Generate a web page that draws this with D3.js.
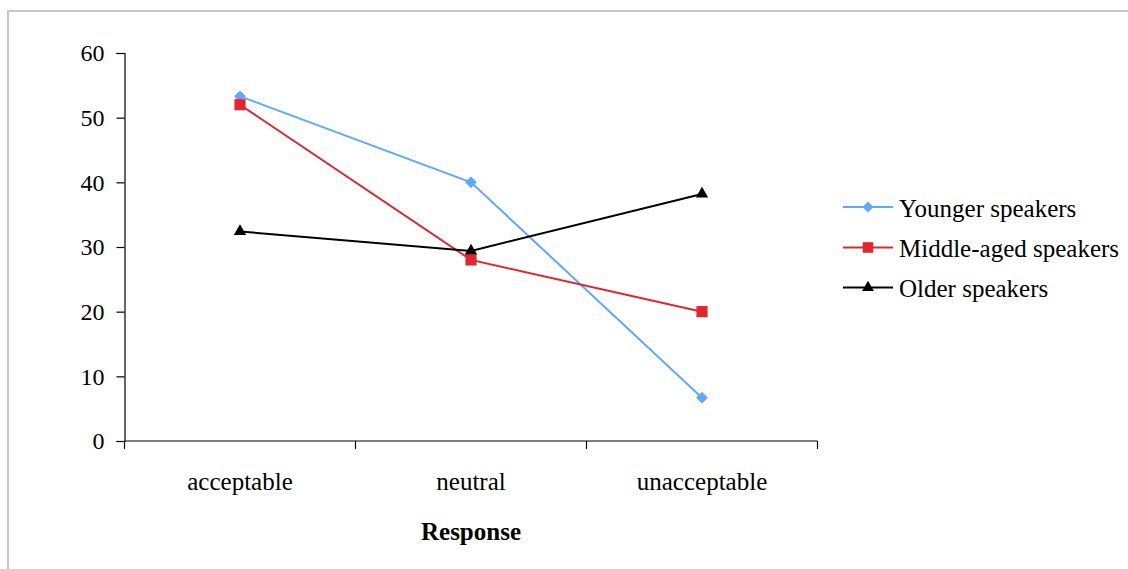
<!DOCTYPE html>
<html>
<head>
<meta charset="utf-8">
<script src="https://cdn.jsdelivr.net/npm/d3@7"></script>
<style>
  html, body { margin: 0; padding: 0; background: #fff; }
</style>
</head>
<body>
<svg id="chart" width="1128" height="569"></svg>
<script>
// Responses by age group (percent)
const categories = ["acceptable", "neutral", "unacceptable"];
const younger = [53.3, 40.0, 6.7];
const middleAged = [52.0, 28.0, 20.0];
const older = [32.4, 29.4, 38.2];
const yTicks = [0, 10, 20, 30, 40, 50, 60];

const seriesNames = ["Younger speakers", "Middle-aged speakers", "Older speakers"];
const seriesColors = ["#5ea9ff", "#e0262e", "#000000"];
const seriesValues = [younger, middleAged, older];

const FONT = "'Liberation Serif', 'Times New Roman', 'DejaVu Serif', serif";

// marker generators: diamond (rotated square), square, triangle
const markers = [
  { type: d3.symbolSquare, size: 68, rotate: 45 },
  { type: d3.symbolSquare, size: 125, rotate: 0 },
  { type: d3.symbolTriangle, size: 66, rotate: 0 }
];

const svg = d3.select("#chart");

// outer frame
svg.append("rect")
  .attr("x", 8).attr("y", 11)
  .attr("width", 1140).attr("height", 580)
  .attr("fill", "none")
  .attr("stroke", "#c6c6c6")
  .attr("stroke-width", 2);

const plotLeft = 124.5, plotRight = 817.5, plotTop = 53, plotBottom = 441;

const x = d3.scaleBand().domain(categories).range([plotLeft, plotRight]);
const y = d3.scaleLinear().domain([0, 60]).range([plotBottom, plotTop]);

// y axis
const yAxis = svg.append("g")
  .attr("transform", `translate(${plotLeft},0)`)
  .call(d3.axisLeft(y).tickValues(yTicks).tickSize(8).tickPadding(12));
yAxis.attr("font-family", null).attr("font-size", null);
yAxis.select(".domain").attr("stroke", "#000").attr("stroke-width", 1.2);
yAxis.selectAll(".tick line").attr("stroke", "#000").attr("stroke-width", 1.2);
yAxis.selectAll(".tick text")
  .style("font-family", FONT)
  .style("font-size", "24px")
  .attr("fill", "#000")
  .attr("dy", "0.33em");

// x axis with ticks between categories
const xAxisG = svg.append("g").attr("transform", `translate(0,${plotBottom})`);
xAxisG.append("line")
  .attr("x1", plotLeft).attr("x2", plotRight)
  .attr("stroke", "#000").attr("stroke-width", 1.2);
const bounds = categories.map(c => x(c)).concat([x(categories[categories.length - 1]) + x.bandwidth()]);
xAxisG.selectAll("line.tk").data(bounds).enter().append("line")
  .attr("class", "tk")
  .attr("x1", d => d).attr("x2", d => d)
  .attr("y1", 0).attr("y2", 8)
  .attr("stroke", "#000").attr("stroke-width", 1.2);
xAxisG.selectAll("text.cat").data(categories).enter().append("text")
  .attr("class", "cat")
  .attr("x", d => x(d) + x.bandwidth() / 2)
  .attr("y", 49)
  .attr("text-anchor", "middle")
  .style("font-family", FONT)
  .style("font-size", "25px")
  .text(d => d);

// axis title
svg.append("text")
  .attr("x", (plotLeft + plotRight) / 2)
  .attr("y", 540)
  .attr("text-anchor", "middle")
  .style("font-family", FONT)
  .style("font-size", "25px")
  .style("font-weight", "bold")
  .text("Response");

const cx = c => x(c) + x.bandwidth() / 2;
const line = d3.line().x((d, i) => cx(categories[i])).y(d => y(d));

seriesValues.forEach((vals, s) => {
  const m = markers[s];
  svg.append("path")
    .datum(vals)
    .attr("d", line)
    .attr("fill", "none")
    .attr("stroke", seriesColors[s])
    .attr("stroke-width", 2);
  svg.selectAll(null).data(vals).enter().append("path")
    .attr("transform", (d, i) => `translate(${cx(categories[i])},${y(d)}) rotate(${m.rotate})`)
    .attr("d", d3.symbol().type(m.type).size(m.size))
    .attr("fill", seriesColors[s]);
});

// legend
const legend = svg.append("g");
const legendY = [207, 247.5, 287.5];
seriesNames.forEach((name, s) => {
  const m = markers[s];
  const g = legend.append("g").attr("transform", `translate(843,${legendY[s]})`);
  g.append("line").attr("x1", 0).attr("x2", 50)
    .attr("stroke", seriesColors[s]).attr("stroke-width", 2);
  g.append("path")
    .attr("transform", `translate(25,0) rotate(${m.rotate})`)
    .attr("d", d3.symbol().type(m.type).size(m.size * 0.9))
    .attr("fill", seriesColors[s]);
  g.append("text")
    .attr("x", 56).attr("y", 9.5)
    .style("font-family", FONT)
    .style("font-size", "25px")
    .text(name);
});
</script>
</body>
</html>
